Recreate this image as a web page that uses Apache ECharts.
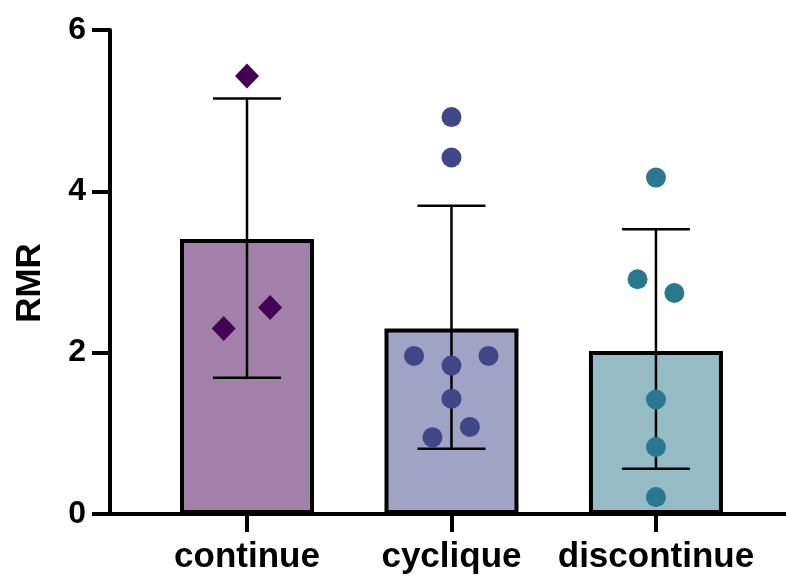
<!DOCTYPE html>
<html>
<head>
<meta charset="utf-8">
<script src="https://cdn.jsdelivr.net/npm/echarts@6/dist/echarts.min.js"></script>
<style>html,body{margin:0;padding:0;background:#fff;}#c{width:786px;height:578px;}</style>
</head>
<body>
<div id="c"></div>
<script>
const categories = ['continue', 'cyclique', 'discontinue'];
const means = [3.41, 2.30, 2.02];
const errLow = [1.69, 0.81, 0.56];
const errHigh = [5.15, 3.82, 3.53];
const continuePts = [5.43, 2.30, 2.56];
const continueJitter = [0, -0.114, 0.113];
const cycliquePts = [4.92, 4.42, 1.96, 1.96, 1.84, 1.43, 1.08, 0.95];
const cycliqueJitter = [0, 0, -0.183, 0.181, 0, 0, 0.09, -0.093];
const discontinuePts = [4.17, 2.91, 2.74, 1.42, 0.83, 0.21];
const discontinueJitter = [0, -0.09, 0.09, 0, 0, 0];
const yTicks = [0, 2, 4, 6];

const pointColors = ['#440154', '#404788', '#2A788E'];
const barColors = ['#A280A9', '#A0A3C4', '#95BBC6'];
const FONT = '"Liberation Sans", Arial, sans-serif';

const chart = echarts.init(document.getElementById('c'));

function pts(vals, jit, idx) {
  return vals.map((v, i) => [idx + jit[i], v]);
}

chart.setOption({
  animation: false,
  backgroundColor: '#fff',
  grid: { left: 110, right: 0, top: 30, bottom: 64 },
  xAxis: {
    type: 'value',
    min: -0.67,
    max: 2.636,
    splitLine: { show: false },
    axisLine: { show: true, onZero: false, lineStyle: { color: '#000', width: 4 } },
    axisTick: { show: true, customValues: [0, 1, 2], length: 18, lineStyle: { color: '#000', width: 4 } },
    axisLabel: {
      customValues: [0, 1, 2],
      formatter: v => categories[Math.round(v)],
      color: '#000', fontFamily: FONT, fontWeight: 'bold', fontSize: 35, margin: 26
    }
  },
  yAxis: {
    type: 'value',
    min: 0, max: 6, interval: 2,
    name: 'RMR',
    nameLocation: 'middle',
    nameGap: 62,
    nameTextStyle: { color: '#000', fontFamily: FONT, fontWeight: 'bold', fontSize: 35, padding: [0, 22, 0, 0] },
    splitLine: { show: false },
    axisLine: { show: true, onZero: false, lineStyle: { color: '#000', width: 4 } },
    axisTick: { show: true, length: 18, lineStyle: { color: '#000', width: 4 } },
    axisLabel: { color: '#000', fontFamily: FONT, fontWeight: 'bold', fontSize: 32, margin: 24 }
  },
  series: [
    {
      type: 'bar',
      barWidth: 134,
      z: 1,
      data: means.map((m, i) => ({
        value: [i, m],
        itemStyle: { color: barColors[i], borderColor: '#000', borderWidth: 4 }
      }))
    },
    {
      type: 'custom',
      z: 3,
      data: means.map((m, i) => [i, errLow[i], errHigh[i]]),
      renderItem: function (params, api) {
        const x = api.value(0);
        const lo = api.coord([x, api.value(1)]);
        const hi = api.coord([x, api.value(2)]);
        const hw = 34;
        const st = { stroke: '#000', lineWidth: 2.5 };
        return {
          type: 'group',
          children: [
            { type: 'line', shape: { x1: hi[0], y1: hi[1], x2: lo[0], y2: lo[1] }, style: st },
            { type: 'line', shape: { x1: hi[0] - hw, y1: hi[1], x2: hi[0] + hw, y2: hi[1] }, style: st },
            { type: 'line', shape: { x1: lo[0] - hw, y1: lo[1], x2: lo[0] + hw, y2: lo[1] }, style: st }
          ]
        };
      }
    },
    {
      type: 'scatter', z: 5,
      symbol: 'diamond', symbolSize: [24, 25],
      itemStyle: { color: pointColors[0], opacity: 1 },
      data: pts(continuePts, continueJitter, 0)
    },
    {
      type: 'scatter', z: 5,
      symbol: 'circle', symbolSize: 20,
      itemStyle: { color: pointColors[1], opacity: 1 },
      data: pts(cycliquePts, cycliqueJitter, 1)
    },
    {
      type: 'scatter', z: 5,
      symbol: 'circle', symbolSize: 20,
      itemStyle: { color: pointColors[2], opacity: 1 },
      data: pts(discontinuePts, discontinueJitter, 2)
    }
  ]
});
</script>
</body>
</html>
